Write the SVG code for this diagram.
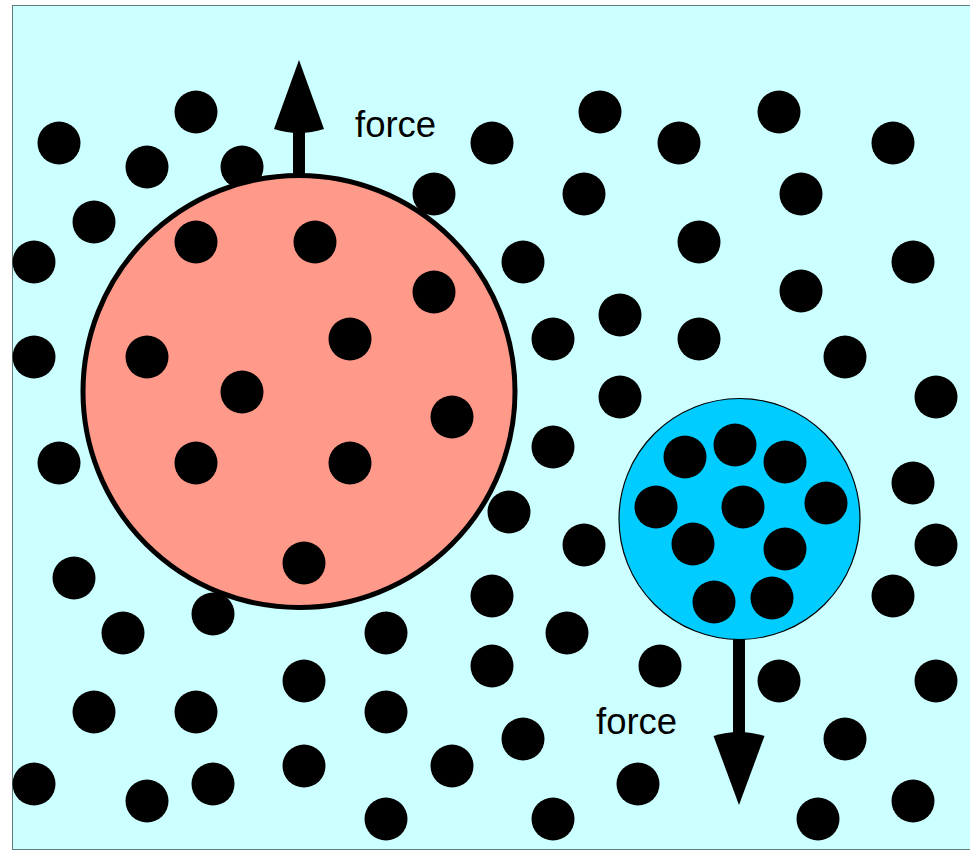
<svg xmlns="http://www.w3.org/2000/svg" width="970" height="851" viewBox="0 0 970 851">
  <style>
    .bg { fill: #ccffff; stroke: #5f7f7f; stroke-width: 1; }
    .p { fill: #000000; }
    .big { fill: #ff998a; stroke: #000000; stroke-width: 5; }
    .small { fill: #00ccff; stroke: #000000; stroke-width: 1.2; }
    .arrow { fill: #000000; }
    .label { font-family: "Liberation Sans", Arial, Helvetica, sans-serif; font-size: 36.5px; fill: #000000; }
  </style>
  <defs>
    <circle id="dot" r="21.5"/>
  </defs>

  <rect class="bg" x="12.5" y="5.5" width="970" height="844"/>

  <!-- free particles in the surrounding medium -->
  <g id="medium" class="p">
    <use href="#dot" x="196" y="112"/><use href="#dot" x="600" y="112"/><use href="#dot" x="779" y="112"/>
    <use href="#dot" x="59" y="143"/><use href="#dot" x="492" y="143"/><use href="#dot" x="679" y="143"/><use href="#dot" x="893" y="143"/>
    <use href="#dot" x="147" y="167"/><use href="#dot" x="242" y="167"/>
    <use href="#dot" x="434" y="194"/><use href="#dot" x="584" y="194"/><use href="#dot" x="801" y="194"/>
    <use href="#dot" x="94" y="222"/>
    <use href="#dot" x="699" y="242"/>
    <use href="#dot" x="34" y="262"/><use href="#dot" x="523" y="262"/><use href="#dot" x="913" y="262"/>
    <use href="#dot" x="801" y="291"/>
    <use href="#dot" x="620" y="315"/>
    <use href="#dot" x="553" y="339"/><use href="#dot" x="699" y="339"/>
    <use href="#dot" x="34" y="357"/><use href="#dot" x="845" y="357"/>
    <use href="#dot" x="620" y="397"/><use href="#dot" x="936" y="397"/>
    <use href="#dot" x="553" y="447"/>
    <use href="#dot" x="59" y="463"/>
    <use href="#dot" x="913" y="483"/>
    <use href="#dot" x="509" y="512"/>
    <use href="#dot" x="584" y="545"/><use href="#dot" x="936" y="545"/>
    <use href="#dot" x="74" y="578"/>
    <use href="#dot" x="492" y="596"/><use href="#dot" x="893" y="596"/>
    <use href="#dot" x="213" y="614"/>
    <use href="#dot" x="123" y="633"/><use href="#dot" x="386" y="633"/><use href="#dot" x="567" y="633"/>
    <use href="#dot" x="492" y="666"/><use href="#dot" x="660" y="666"/>
    <use href="#dot" x="304" y="681"/><use href="#dot" x="779" y="681"/><use href="#dot" x="936" y="681"/>
    <use href="#dot" x="94" y="712"/><use href="#dot" x="196" y="712"/><use href="#dot" x="386" y="712"/>
    <use href="#dot" x="523" y="739"/><use href="#dot" x="845" y="739"/>
    <use href="#dot" x="304" y="766"/><use href="#dot" x="452" y="766"/>
    <use href="#dot" x="34" y="784"/><use href="#dot" x="213" y="784"/><use href="#dot" x="638" y="784"/>
    <use href="#dot" x="147" y="801"/><use href="#dot" x="913" y="801"/>
    <use href="#dot" x="386" y="819"/><use href="#dot" x="553" y="819"/><use href="#dot" x="818" y="819"/>
  </g>

  <!-- force arrows -->
  <g id="connectors" class="arrow">
    <rect x="293" y="128" width="12" height="50"/>
    <path d="M299,60 L324,129 Q299,137 274,129 Z"/>
    <rect x="733" y="636" width="12" height="100"/>
    <path d="M739,805 L764.5,736 Q739,728 713.5,736 Z"/>
  </g>

  <!-- large, sparse droplet -->
  <g id="large-droplet">
    <circle class="big" cx="299" cy="391.5" r="216"/>
    <g class="p">
      <use href="#dot" x="196" y="242"/><use href="#dot" x="315" y="242"/>
      <use href="#dot" x="434" y="292"/>
      <use href="#dot" x="350" y="339"/>
      <use href="#dot" x="147" y="357"/>
      <use href="#dot" x="242" y="392"/>
      <use href="#dot" x="452" y="417"/>
      <use href="#dot" x="196" y="463"/><use href="#dot" x="350" y="463"/>
      <use href="#dot" x="304" y="563"/>
    </g>
  </g>

  <!-- small, dense droplet -->
  <g id="small-droplet">
    <circle class="small" cx="739.5" cy="519" r="120.5"/>
    <g class="p">
      <use href="#dot" x="685" y="457"/><use href="#dot" x="735" y="445"/><use href="#dot" x="785" y="462"/>
      <use href="#dot" x="656" y="507"/><use href="#dot" x="743" y="507"/><use href="#dot" x="826" y="503"/>
      <use href="#dot" x="693" y="544"/><use href="#dot" x="785" y="549"/>
      <use href="#dot" x="714" y="602"/><use href="#dot" x="772" y="598"/>
    </g>
  </g>

  <g id="labels">
    <text class="label" x="355" y="137">force</text>
    <text class="label" x="596" y="734">force</text>
  </g>
</svg>
